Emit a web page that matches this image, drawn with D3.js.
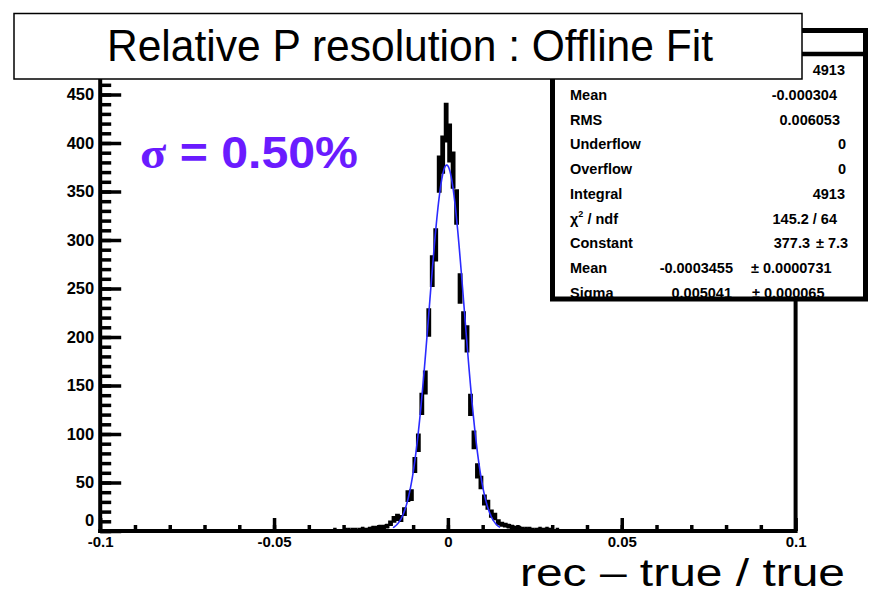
<!DOCTYPE html>
<html>
<head>
<meta charset="utf-8">
<script src="https://cdn.jsdelivr.net/npm/d3@7"></script>
<style>
  body { margin: 0; background: #fff; }
  svg { display: block; font-family: "Liberation Sans", Arial, sans-serif; }
</style>
</head>
<body>
<div id="chart"></div>
<script>
// histogram definition: 200 bins of 0.001 on [-0.1, 0.1], only filled bins listed
const xRange = [-0.1, 0.1];
const yRange = [0, 470];
const binWidth = 0.001;
const firstBinLow = -0.033;
const counts = [
  1, 0, 0, 1, 1, 1, 1, 1, 2, 1, 2, 3, 3, 4, 4, 5, 8, 12, 14, 13,
  20, 36, 37, 68, 91, 131, 153, 215, 268, 295, 368, 388, 421, 400, 372, 334, 250, 212, 198, 130,
  94, 62, 50, 32, 27, 18, 15, 9, 7, 6, 5, 4, 3, 3, 2, 2, 2, 1, 1, 2,
  1, 2, 1, 0, 1
];

// gaussian fit result
const fitConstant = 377.3;
const fitMean = -0.0003455;
const fitSigma = 0.005041;
const fitRange = [-0.0158, 0.0150];

// axis ticks
const xMajorTicks = [-0.1, -0.05, 0, 0.05, 0.1];
const xTickLabels = ["-0.1", "-0.05", "0", "0.05", "0.1"];
const xMinorTicks = d3.range(-0.09, 0.095, 0.01);
const yMajorTicks = [0, 50, 100, 150, 200, 250, 300, 350, 400, 450];
const yMinorTicks = d3.range(0, 461, 10);

// stats box
const statLabels = ["", "Mean", "RMS", "Underflow", "Overflow", "Integral", "χ2 / ndf", "Constant", "Mean", "Sigma"];
const statValues = ["4913", "-0.000304", "0.006053", "0", "0", "4913", "145.2 / 64", "377.3", "-0.0003455", "0.005041"];
const statErrors = ["", "", "", "", "", "", "", "± 7.3", "± 0.0000731", "± 0.000065"];

const titleText = "Relative P resolution : Offline Fit";
const xTitle = "rec – true / true";

const width = 876, height = 595;

const svg = d3.select("#chart").append("svg")
  .attr("width", width)
  .attr("height", height);

const x = d3.scaleLinear().domain(xRange).range([100.2, 795.6]);
const y = d3.scaleLinear().domain(yRange).range([531, 531 - 470 * 0.97]);

// histogram drawn as error bars (thick)
const bins = counts.map((c, i) => {
  const lo = firstBinLow + i * binWidth;
  return { lo: lo, hi: lo + binWidth, c: c };
}).filter(d => d.c > 0);

svg.append("g")
  .selectAll("path")
  .data(bins)
  .enter()
  .append("path")
  .attr("d", d => {
    const e = Math.sqrt(d.c);
    const xm = x((d.lo + d.hi) / 2);
    return `M${x(d.lo)},${y(d.c)}H${x(d.hi)}M${xm},${y(d.c - e)}V${y(d.c + e)}`;
  })
  .attr("fill", "none")
  .attr("stroke", "#000")
  .attr("stroke-width", 4.8);

// fit curve
const fitPts = d3.range(0, 201).map(i => {
  const v = fitRange[0] + (fitRange[1] - fitRange[0]) * i / 200;
  return [v, fitConstant * Math.exp(-0.5 * Math.pow((v - fitMean) / fitSigma, 2))];
});
svg.append("path")
  .datum(fitPts)
  .attr("d", d3.line().x(d => x(d[0])).y(d => y(d[1])))
  .attr("fill", "none")
  .attr("stroke", "#2b2bff")
  .attr("stroke-width", 1.6);

// frame
const frame = svg.append("g").attr("stroke", "#000").attr("stroke-width", 4).attr("fill", "none");
frame.append("line").attr("x1", x(0.1)).attr("x2", x(0.1)).attr("y1", y(470)).attr("y2", 531);
frame.append("line").attr("x1", 100.2).attr("x2", x(0.1)).attr("y1", y(470)).attr("y2", y(470));
frame.append("line").attr("x1", 100.2).attr("x2", 100.2).attr("y1", y(470)).attr("y2", 533);
frame.append("line").attr("x1", 98.2).attr("x2", x(0.1) + 2).attr("y1", 531).attr("y2", 531);

function styleAxis(size) {
  return g => {
    g.select(".domain").remove();
    g.selectAll(".tick line").attr("stroke", "#000").attr("stroke-width", 3.5);
    g.selectAll("text")
      .attr("fill", "#000")
      .style("font-family", "'Liberation Sans', Arial, sans-serif")
      .style("font-size", size + "px")
      .style("font-weight", "bold");
  };
}

// y axis
svg.append("g")
  .attr("transform", "translate(100.2,0)")
  .call(d3.axisLeft(y).tickValues(yMinorTicks).tickSize(-11).tickFormat(""))
  .call(styleAxis(16));
const yAxis = svg.append("g")
  .attr("transform", "translate(100.2,0)")
  .call(d3.axisLeft(y).tickValues(yMajorTicks).tickSize(-21).tickPadding(6).tickFormat(d3.format("d")))
  .call(styleAxis(16.5));
yAxis.selectAll(".tick text").filter(d => d === 0).attr("dy", "-0.35em");

// x axis
svg.append("g")
  .attr("transform", "translate(0,531)")
  .call(d3.axisBottom(x).tickValues(xMinorTicks).tickSize(-6).tickFormat(""))
  .call(styleAxis(15));
svg.append("g")
  .attr("transform", "translate(0,531)")
  .call(d3.axisBottom(x).tickValues(xMajorTicks).tickSize(-13).tickPadding(5)
    .tickFormat((d, i) => xTickLabels[i]))
  .call(styleAxis(15));

// sigma annotation
const sig = svg.append("text")
  .attr("x", 140)
  .attr("y", 168)
  .attr("fill", "#6a1bff")
  .style("font-size", "45px")
  .style("font-weight", "bold")
  .attr("textLength", 218)
  .attr("lengthAdjust", "spacingAndGlyphs");
sig.append("tspan").style("font-family", "'Liberation Serif', serif").text("σ");
sig.append("tspan").text(" = 0.50%");

// stats box
const statValueRight = [845, 837, 840, 846, 846, 845, 837, 810, 733, 732];
const statErrorLeft = [0, 0, 0, 0, 0, 0, 0, 816, 751, 752];
const stats = svg.append("g");
stats.append("rect")
  .attr("x", 552.5).attr("y", 30.5)
  .attr("width", 313).attr("height", 268.5)
  .attr("fill", "#fff");
stats.append("clipPath").attr("id", "statClip")
  .append("rect").attr("x", 552).attr("y", 30).attr("width", 314).attr("height", 269);
const statText = stats.append("g")
  .attr("clip-path", "url(#statClip)")
  .style("font-size", "14.5px")
  .style("font-weight", "bold")
  .attr("fill", "#000");
statLabels.forEach((lab, i) => {
  const by = 75 + i * 24.75;
  if (lab) {
    const t = statText.append("text").attr("x", 570).attr("y", by);
    if (lab.startsWith("χ2")) {
      t.append("tspan").text("χ");
      t.append("tspan").attr("dy", -7).style("font-size", "9px").text("2");
      t.append("tspan").attr("dy", 7).text(lab.slice(2));
    } else {
      t.text(lab);
    }
  }
  statText.append("text")
    .attr("x", statValueRight[i]).attr("y", by)
    .attr("text-anchor", "end")
    .text(statValues[i]);
  if (statErrors[i]) {
    statText.append("text")
      .attr("x", statErrorLeft[i]).attr("y", by)
      .text(statErrors[i]);
  }
});
stats.append("line")
  .attr("x1", 552.5).attr("x2", 865.5).attr("y1", 54).attr("y2", 54)
  .attr("stroke", "#000").attr("stroke-width", 4.5);
stats.append("rect")
  .attr("x", 552.5).attr("y", 30.5)
  .attr("width", 313).attr("height", 268.5)
  .attr("fill", "none")
  .attr("stroke", "#000")
  .attr("stroke-width", 5);

// title box
svg.append("rect")
  .attr("x", 14).attr("y", 13.5)
  .attr("width", 788).attr("height", 65.5)
  .attr("fill", "#fff")
  .attr("stroke", "#000")
  .attr("stroke-width", 1.5);
svg.append("text")
  .attr("x", 107).attr("y", 61)
  .attr("textLength", 606)
  .attr("lengthAdjust", "spacingAndGlyphs")
  .style("font-size", "44px")
  .attr("fill", "#000")
  .text(titleText);

// x axis title
svg.append("text")
  .attr("x", 520).attr("y", 586)
  .attr("textLength", 325)
  .attr("lengthAdjust", "spacingAndGlyphs")
  .style("font-size", "39px")
  .attr("fill", "#000")
  .text(xTitle);
</script>
</body>
</html>
